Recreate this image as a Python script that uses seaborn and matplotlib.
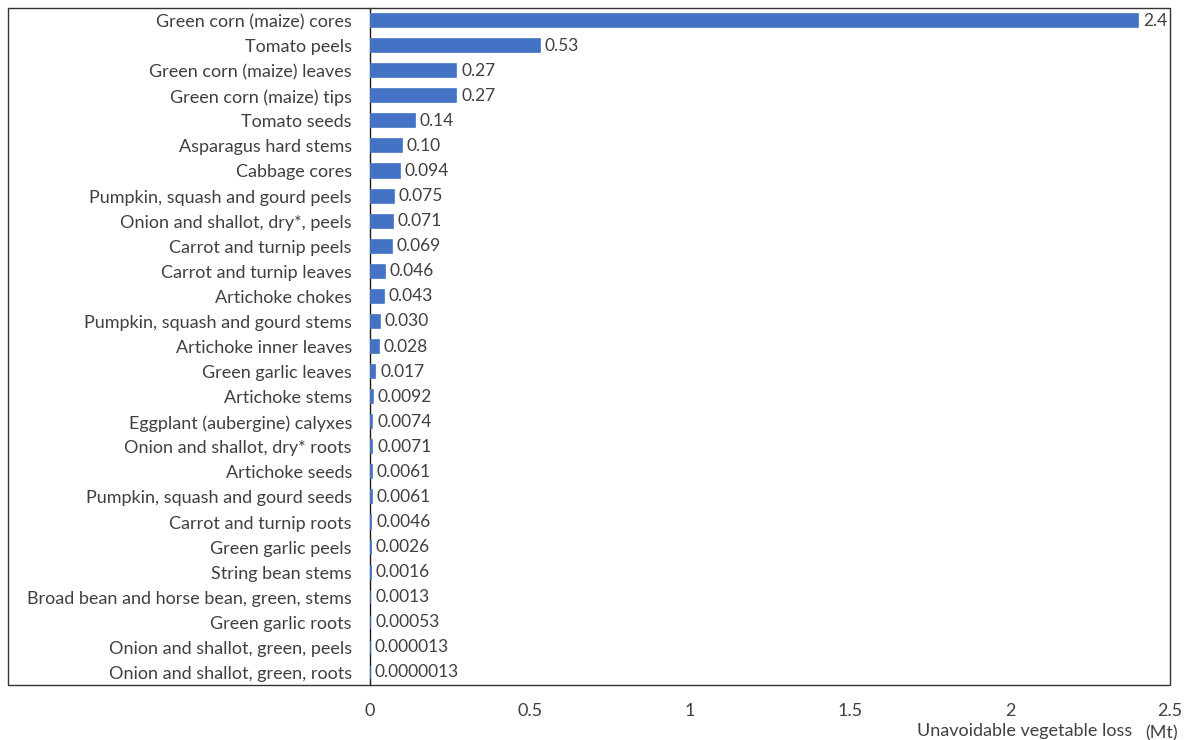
import matplotlib
matplotlib.use("Agg")
import matplotlib.pyplot as plt
from matplotlib.patches import Rectangle
import seaborn as sns
import pandas as pd

# Unavoidable vegetable loss by vegetable part (Mt)
categories = [
    "Green corn (maize) cores",
    "Tomato peels",
    "Green corn (maize) leaves",
    "Green corn (maize) tips",
    "Tomato seeds",
    "Asparagus hard stems",
    "Cabbage cores",
    "Pumpkin, squash and gourd peels",
    "Onion and shallot, dry*, peels",
    "Carrot and turnip peels",
    "Carrot and turnip leaves",
    "Artichoke chokes",
    "Pumpkin, squash and gourd stems",
    "Artichoke inner leaves",
    "Green garlic leaves",
    "Artichoke stems",
    "Eggplant (aubergine) calyxes",
    "Onion and shallot, dry* roots",
    "Artichoke seeds",
    "Pumpkin, squash and gourd seeds",
    "Carrot and turnip roots",
    "Green garlic peels",
    "String bean stems",
    "Broad bean and horse bean, green, stems",
    "Green garlic roots",
    "Onion and shallot, green, peels",
    "Onion and shallot, green, roots",
]
value_labels = [
    "2.4", "0.53", "0.27", "0.27", "0.14", "0.10", "0.094", "0.075",
    "0.071", "0.069", "0.046", "0.043", "0.030", "0.028", "0.017",
    "0.0092", "0.0074", "0.0071", "0.0061", "0.0061", "0.0046",
    "0.0026", "0.0016", "0.0013", "0.00053", "0.000013", "0.0000013",
]
values = [float(v) for v in value_labels]
x_ticks = [0, 0.5, 1, 1.5, 2, 2.5]
x_tick_labels = ["0", "0.5", "1", "1.5", "2", "2.5"]

sns.set_theme(style="white")
plt.rcParams["font.family"] = ["Lato", "DejaVu Sans"]
text_color = "#404040"
bar_color = "#4472C4"
fs_label = 13
fs_value = 12.5

W, H = 1190, 740
fig = plt.figure(figsize=(W / 100, H / 100), dpi=100)
fig.patch.set_facecolor("white")

# plot area in pixel coordinates
left_px, right_px, top_px, bottom_px = 370, 1170, 8, 685
ax = fig.add_axes([left_px / W, 1 - bottom_px / H,
                   (right_px - left_px) / W, (bottom_px - top_px) / H])

df = pd.DataFrame({"part": categories, "loss": values})
sns.barplot(data=df, y="part", x="loss", order=categories, orient="h",
            color=bar_color, saturation=1, width=0.52, ax=ax,
            edgecolor=bar_color, linewidth=1.2, zorder=3)

ax.set_xlim(0, 2.5)
ax.set_ylim(len(categories) - 0.5, -0.5)
ax.set_xticks(x_ticks)
ax.set_xticklabels(x_tick_labels)
ax.set_xlabel("")
ax.set_ylabel("")
ax.tick_params(axis="x", length=0, pad=13, labelsize=fs_label, labelcolor=text_color)
ax.tick_params(axis="y", length=0, pad=13, labelsize=fs_label, labelcolor=text_color)
for side in ["top", "right", "bottom"]:
    ax.spines[side].set_visible(False)
ax.spines["left"].set_color("#1a1a1a")
ax.spines["left"].set_linewidth(1.0)
ax.spines["left"].set_zorder(2)
ax.patch.set_alpha(0)

# value labels at the end of each bar
for i, (v, lab) in enumerate(zip(values, value_labels)):
    ax.annotate(lab, xy=(v, i), xytext=(3.5, 0), textcoords="offset points",
                ha="left", va="center", fontsize=fs_value, color=text_color)

# outer frame around labels and plot area
fig.patches.append(Rectangle((8 / W, 1 - bottom_px / H), (right_px - 8) / W,
                             (bottom_px - top_px) / H, transform=fig.transFigure,
                             fill=False, edgecolor="#333333", linewidth=1.0))

# axis title
fig.text(1132 / W, 1 - 731 / H, "Unavoidable vegetable loss", ha="right",
         va="center", fontsize=fs_label, color=text_color)
fig.text(1162 / W, 1 - 733 / H, "(Mt)", ha="center", va="center",
         fontsize=fs_label, color=text_color)

fig.savefig("out.png", dpi=100)
